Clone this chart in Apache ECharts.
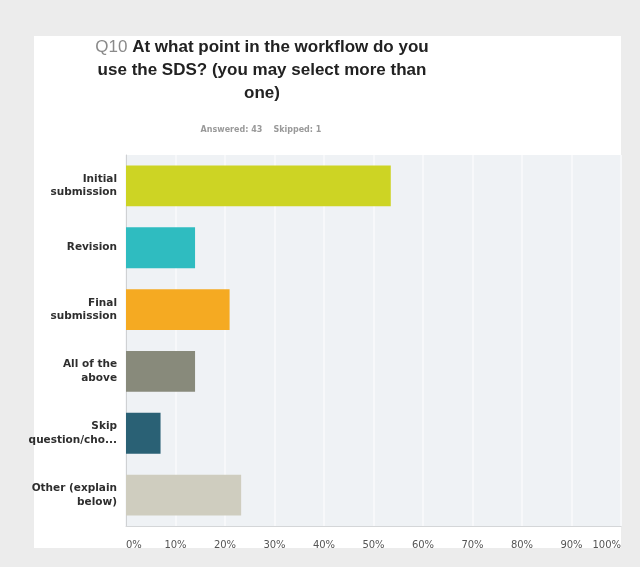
<!DOCTYPE html>
<html>
<head>
<meta charset="utf-8">
<script src="https://cdn.jsdelivr.net/npm/echarts@6/dist/echarts.min.js"></script>
<style>
html,body{margin:0;padding:0;background:#ececec;}
#c{width:640px;height:567px;}
</style>
</head>
<body>
<div id="c"></div>
<script>
var categories = ['Initial\nsubmission', 'Revision', 'Final\nsubmission', 'All of the\nabove', 'Skip\nquestion/cho...', 'Other (explain\nbelow)'];
var values = [53.49, 13.95, 20.93, 13.95, 6.98, 23.26];
var barColors = ['#cdd424', '#2fbcc0', '#f5aa22', '#888a7b', '#2a6175', '#cfcdbf'];
var tickLabels = ['0%', '10%', '20%', '30%', '40%', '50%', '60%', '70%', '80%', '90%', '100%'];

var chart = echarts.init(document.getElementById('c'), null, {renderer: 'canvas'});
chart.setOption({
  backgroundColor: '#ececec',
  animation: false,
  graphic: [{
    type: 'rect', z: -10, silent: true,
    shape: {x: 34, y: 36, width: 587, height: 512},
    style: {fill: '#ffffff'}
  }],
  title: [{
    text: '{q|Q10} At what point in the workflow do you\nuse the SDS? (you may select more than\none)',
    left: 257, top: 31, textAlign: 'center',
    textStyle: {
      fontFamily: 'Liberation Sans', fontSize: 17, fontWeight: 'bold', color: '#222', lineHeight: 23,
      rich: {q: {fontFamily: 'Liberation Sans', fontSize: 17, fontWeight: 'normal', color: '#8a8a8a', lineHeight: 23}}
    }
  }, {
    text: 'Answered: 43    Skipped: 1',
    left: 256, top: 121, textAlign: 'center',
    textStyle: {fontFamily: 'DejaVu Sans', fontSize: 8, fontWeight: 'bold', color: '#9a9a9a'}
  }],
  grid: {
    left: 126, right: 19, top: 155, bottom: 41,
    show: true, backgroundColor: '#eff2f5', borderWidth: 0
  },
  xAxis: {
    type: 'value', min: 0, max: 100, interval: 10,
    axisLine: {show: true, lineStyle: {color: '#d4d6d8', width: 1}},
    axisTick: {show: false},
    splitLine: {show: true, lineStyle: {color: '#f7f8fa', width: 2}},
    axisLabel: {
      formatter: function (v) { return tickLabels[Math.round(v / 10)]; },
      fontFamily: 'DejaVu Sans', fontSize: 10, color: '#555', margin: 14,
      alignMinLabel: 'left', alignMaxLabel: 'right'
    }
  },
  yAxis: {
    type: 'category', data: categories, inverse: true,
    axisLine: {show: true, lineStyle: {color: '#cfd1d3'}},
    axisTick: {show: false},
    axisLabel: {
      fontFamily: 'DejaVu Sans', fontSize: 10.5, fontWeight: 'bold', color: '#2e2e2e',
      margin: 9, lineHeight: 13.5
    }
  },
  series: [{
    type: 'bar',
    data: values.map(function (v, i) { return {value: v, itemStyle: {color: barColors[i]}}; }),
    barCategoryGap: '34%'
  }]
});
</script>
</body>
</html>
